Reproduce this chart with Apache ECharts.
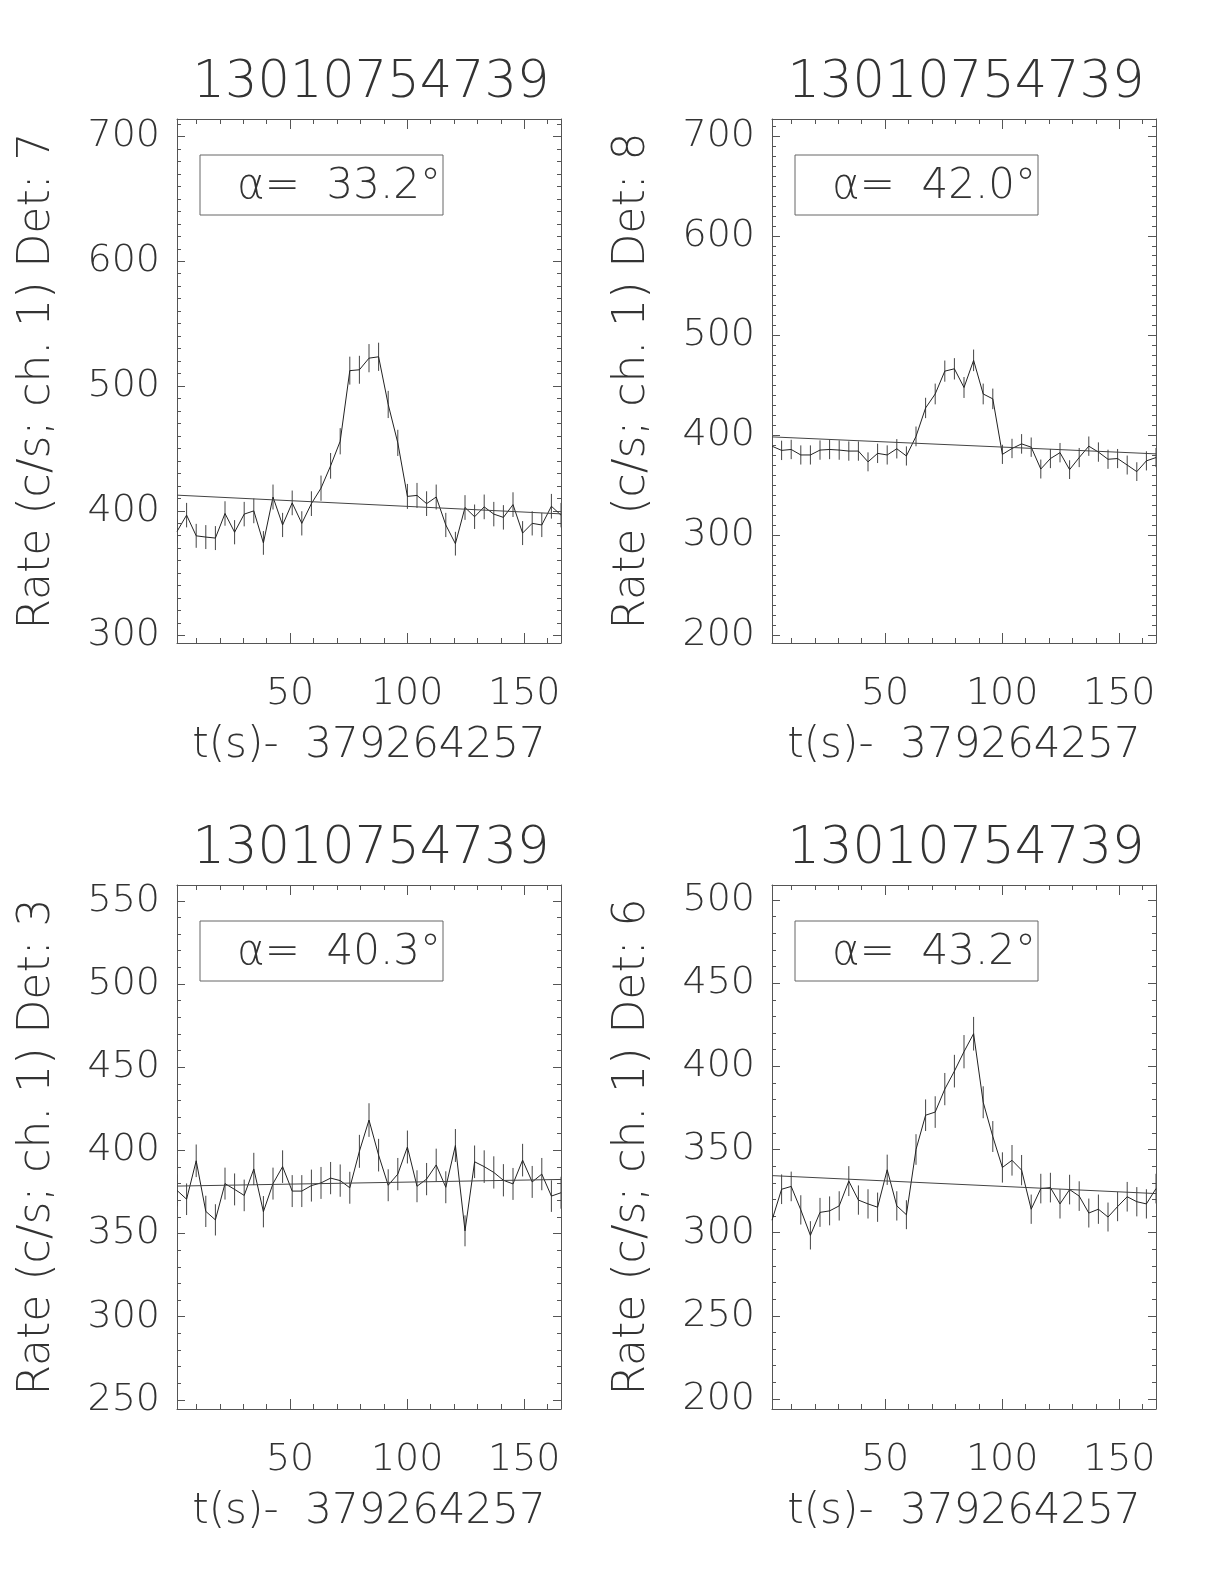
<!DOCTYPE html>
<html><head><meta charset="utf-8">
<script src="https://cdn.jsdelivr.net/npm/echarts@6/dist/echarts.min.js"></script>
<style>html,body{margin:0;padding:0;background:#fff}#c{width:1224px;height:1584px}</style>
</head><body><div id="c"></div>
<script>
// ---- data ----
const times = [1.7, 5.8, 9.9, 14.0, 18.1, 22.2, 26.3, 30.4, 34.5, 38.6, 42.7, 46.8, 50.9, 55.0, 59.1, 63.2, 67.3, 71.4, 75.5, 79.6, 83.7, 87.8, 91.9, 96.0, 100.1, 104.2, 108.3, 112.4, 116.5, 120.6, 124.7, 128.8, 132.9, 137.0, 141.1, 145.2, 149.3, 153.4, 157.5, 161.6, 165.7];

const rateDet7 = [383.4, 396.5, 379.9, 378.9, 378.1, 397.8, 382.8, 397.3, 399.9, 374.2, 411.0, 388.6, 406.3, 389.9, 405.7, 418.1, 436.0, 455.7, 512.3, 513.0, 522.3, 523.4, 485.2, 454.4, 411.5, 412.3, 405.7, 411.0, 388.6, 373.6, 402.6, 395.2, 403.1, 397.3, 394.7, 404.9, 382.1, 389.9, 388.6, 403.6, 396.5];
const errDet7 = [9.7, 9.8, 9.6, 9.6, 9.6, 9.8, 9.7, 9.8, 9.9, 9.5, 10.0, 9.7, 9.9, 9.7, 9.9, 10.1, 10.3, 10.5, 11.2, 11.2, 11.3, 11.3, 10.9, 10.5, 10.0, 10.0, 9.9, 10.0, 9.7, 9.5, 9.9, 9.8, 9.9, 9.8, 9.8, 9.9, 9.6, 9.7, 9.7, 9.9, 9.8];

const rateDet8 = [389.2, 385.0, 385.9, 380.4, 380.4, 385.3, 385.9, 385.3, 384.3, 384.3, 373.5, 382.0, 380.4, 386.6, 379.4, 399.0, 427.5, 441.5, 464.4, 466.7, 448.0, 475.2, 441.5, 436.6, 381.0, 386.9, 391.5, 388.2, 366.3, 376.8, 382.7, 365.7, 377.8, 389.2, 383.3, 376.1, 376.8, 370.3, 363.7, 374.5, 377.8];
const errDet8 = [9.7, 9.7, 9.7, 9.6, 9.6, 9.7, 9.7, 9.7, 9.7, 9.7, 9.5, 9.7, 9.6, 9.7, 9.6, 9.9, 10.2, 10.4, 10.6, 10.7, 10.5, 10.8, 10.4, 10.3, 9.6, 9.7, 9.8, 9.7, 9.5, 9.6, 9.7, 9.4, 9.6, 9.7, 9.7, 9.6, 9.6, 9.5, 9.4, 9.6, 9.6];

const rateDet3 = [375.9, 370.6, 393.7, 363.3, 358.2, 380.0, 376.5, 372.9, 388.8, 363.1, 380.0, 390.2, 375.5, 375.5, 378.8, 380.4, 383.3, 381.8, 377.5, 399.4, 418.2, 397.1, 379.0, 385.7, 402.0, 378.4, 382.7, 391.2, 377.8, 402.9, 351.6, 393.1, 390.2, 386.7, 382.0, 379.8, 394.1, 381.0, 385.7, 372.5, 374.5];
const errDet3 = [9.6, 9.5, 9.8, 9.4, 9.4, 9.6, 9.6, 9.5, 9.7, 9.4, 9.6, 9.8, 9.6, 9.6, 9.6, 9.6, 9.7, 9.7, 9.6, 9.9, 10.1, 9.8, 9.6, 9.7, 9.9, 9.6, 9.7, 9.8, 9.6, 9.9, 9.3, 9.8, 9.8, 9.7, 9.7, 9.6, 9.8, 9.6, 9.7, 9.5, 9.6];

const rateDet6 = [307.5, 326.1, 327.8, 313.7, 298.4, 312.2, 313.1, 316.1, 331.0, 319.6, 317.3, 315.3, 337.8, 316.1, 310.8, 350.0, 370.6, 372.5, 386.3, 397.1, 408.8, 419.6, 378.4, 357.8, 339.2, 343.5, 337.6, 314.1, 326.5, 327.1, 317.3, 325.9, 322.0, 311.8, 314.1, 309.4, 315.7, 321.6, 318.6, 317.3, 326.5];
const errDet6 = [8.7, 8.9, 8.9, 8.8, 8.5, 8.7, 8.7, 8.8, 9.0, 8.8, 8.8, 8.8, 9.1, 8.8, 8.7, 9.2, 9.5, 9.5, 9.7, 9.8, 10.0, 10.1, 9.6, 9.3, 9.1, 9.2, 9.1, 8.8, 8.9, 8.9, 8.8, 8.9, 8.9, 8.7, 8.8, 8.7, 8.8, 8.9, 8.8, 8.8, 8.9];

// background fit: value at first and last time
const fitDet7 = [412.5, 397.5];
const fitDet8 = [398.5, 381.5];
const fitDet3 = [378.5, 382.5];
const fitDet6 = [334.3, 323.5];

const panelTitles = ['13010754739', '13010754739', '13010754739', '13010754739'];
const detectors = ['7', '8', '3', '6'];
const alphas = ['33.2', '42.0', '40.3', '43.2'];
const xName = 't(s)-  379264257';

const xMajorTicks = [50, 100, 150];
const xMinorTicks = [10, 20, 30, 40, 60, 70, 80, 90, 110, 120, 130, 140, 160];
const yMajorTicks = [[300, 400, 500, 600, 700], [200, 300, 400, 500, 600, 700], [250, 300, 350, 400, 450, 500, 550], [200, 250, 300, 350, 400, 450, 500]];
const yRanges = [[294, 714], [192, 717], [244.5, 559.5], [194, 509]];

// ---- layout / style ----
const rates = [rateDet7, rateDet8, rateDet3, rateDet6];
const errs = [errDet7, errDet8, errDet3, errDet6];
const fits = [fitDet7, fitDet8, fitDet3, fitDet6];
const FONT = "'DejaVu Sans ExtraLight','DejaVu Sans',sans-serif";
const FW = 200;
const TXT = '#333';
const AX = '#555';
const pos = [{l: 177, t: 119}, {l: 772, t: 119}, {l: 177, t: 885}, {l: 772, t: 885}];
const W = 384, H = 524;
const tMin = times[0], tMax = times[times.length - 1];

function stepTicks(lo, hi, step) { const a = []; for (let v = Math.ceil(lo / step) * step; v <= hi + 1e-9; v += step) a.push(v); return a; }

const grid = [], xAxis = [], yAxis = [], series = [], graphic = [];
for (let p = 0; p < 4; p++) grid.push({left: pos[p].l, top: pos[p].t, width: W, height: H, outerBoundsMode: 'none', containLabel: false});
for (let p = 0; p < 4; p++) grid.push({left: pos[p].l, top: pos[p].t, width: W, height: H, outerBoundsMode: 'none', containLabel: false});

const lab = {fontSize: 38, color: TXT, fontFamily: FONT, fontWeight: FW};
for (let p = 0; p < 4; p++) {
  const common = {type: 'value', min: tMin, max: tMax, splitLine: {show: false}};
  xAxis.push(Object.assign({}, common, {gridIndex: p, position: 'bottom',
    axisLine: {show: true, onZero: false, lineStyle: {color: AX, width: 1}},
    axisTick: {show: true, inside: true, length: 10, customValues: xMajorTicks, lineStyle: {color: AX}},
    axisLabel: Object.assign({show: true, customValues: xMajorTicks, margin: 32}, lab),
    name: xName, nameLocation: 'middle', nameGap: 82,
    nameTextStyle: {fontSize: 42, color: TXT, fontFamily: FONT, fontWeight: FW}}));
  xAxis.push(Object.assign({}, common, {gridIndex: p, position: 'top',
    axisLine: {show: true, onZero: false, lineStyle: {color: AX, width: 1}},
    axisTick: {show: true, inside: true, length: 10, customValues: xMajorTicks, lineStyle: {color: AX}},
    axisLabel: {show: false}}));
  const yr = yRanges[p];
  const yc = {type: 'value', min: yr[0], max: yr[1], splitLine: {show: false}};
  yAxis.push(Object.assign({}, yc, {gridIndex: p, position: 'left',
    axisLine: {show: true, onZero: false, lineStyle: {color: AX, width: 1}},
    axisTick: {show: true, inside: true, length: 8, customValues: yMajorTicks[p], lineStyle: {color: AX}},
    axisLabel: Object.assign({show: true, customValues: yMajorTicks[p], margin: 17}, lab),
    name: 'Rate (c/s; ch. 1) Det: ' + detectors[p], nameLocation: 'middle', nameGap: 117,
    nameTextStyle: {fontSize: 44, color: TXT, fontFamily: FONT, fontWeight: FW}}));
  yAxis.push(Object.assign({}, yc, {gridIndex: p, position: 'right',
    axisLine: {show: true, onZero: false, lineStyle: {color: AX, width: 1}},
    axisTick: {show: true, inside: true, length: 8, customValues: yMajorTicks[p], lineStyle: {color: AX}},
    axisLabel: {show: false}}));
}
for (let p = 0; p < 4; p++) {
  const g = 4 + p;
  const common = {type: 'value', min: tMin, max: tMax, splitLine: {show: false}, axisLine: {show: false}, axisLabel: {show: false}};
  ['bottom', 'top'].forEach(ps => xAxis.push(Object.assign({}, common, {gridIndex: g, position: ps,
    axisTick: {show: true, inside: true, length: 5, customValues: xMinorTicks, lineStyle: {color: AX}}})));
  const yr = yRanges[p];
  const minor = stepTicks(yr[0], yr[1], 10);
  const yc = {type: 'value', min: yr[0], max: yr[1], splitLine: {show: false}, axisLine: {show: false}, axisLabel: {show: false}};
  ['left', 'right'].forEach(ps => yAxis.push(Object.assign({}, yc, {gridIndex: g, position: ps,
    axisTick: {show: true, inside: true, length: 4, customValues: minor, lineStyle: {color: AX}}})));
}

for (let p = 0; p < 4; p++) {
  const xi = 2 * p, yi = 2 * p;
  series.push({type: 'line', xAxisIndex: xi, yAxisIndex: yi, showSymbol: false, symbol: 'none',
    lineStyle: {color: '#222', width: 1}, animation: false,
    data: times.map((t, i) => [t, rates[p][i]])});
  series.push({type: 'custom', xAxisIndex: xi, yAxisIndex: yi, animation: false, clip: true,
    data: times.map((t, i) => [t, rates[p][i] - errs[p][i], rates[p][i] + errs[p][i]]),
    encode: {x: 0, y: [1, 2]},
    renderItem: function (params, api) {
      const a = api.coord([api.value(0), api.value(1)]);
      const b = api.coord([api.value(0), api.value(2)]);
      return {type: 'line', shape: {x1: a[0], y1: a[1], x2: b[0], y2: b[1]}, style: {stroke: '#444', lineWidth: 1}};
    }});
  series.push({type: 'line', xAxisIndex: xi, yAxisIndex: yi, showSymbol: false, symbol: 'none',
    lineStyle: {color: '#444', width: 1}, animation: false,
    data: [[tMin, fits[p][0]], [tMax, fits[p][1]]]});

  // title above the panel
  graphic.push({type: 'text', x: pos[p].l + W / 2 + 2, y: pos[p].t - 35, silent: true,
    style: {text: panelTitles[p], fontSize: 51, fontFamily: FONT, fontWeight: FW, fill: TXT, align: 'center', verticalAlign: 'middle'}});
  // angle box
  graphic.push({type: 'rect', shape: {x: pos[p].l + 23, y: pos[p].t + 36, width: 243, height: 60}, silent: true,
    style: {fill: 'none', stroke: '#666', lineWidth: 1}});
  graphic.push({type: 'text', x: pos[p].l + 60, y: pos[p].t + 68, silent: true,
    style: {text: 'α=  ' + alphas[p] + '°', fontSize: 42, fontFamily: FONT, fontWeight: FW, fill: TXT,
      align: 'left', verticalAlign: 'middle'}});
}

const chart = echarts.init(document.getElementById('c'), null, {renderer: 'canvas'});
chart.setOption({backgroundColor: '#fff', animation: false, grid, xAxis, yAxis, series, graphic});
</script></body></html>
